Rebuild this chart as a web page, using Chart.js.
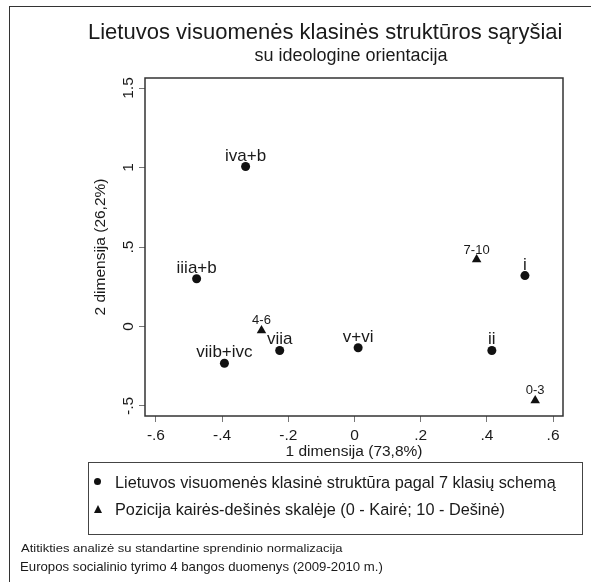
<!DOCTYPE html>
<html>
<head>
<meta charset="utf-8">
<script src="https://cdn.jsdelivr.net/npm/chart.js@4.4.1/dist/chart.umd.min.js"></script>
<style>
    body { margin: 0; background: #fff; font-family: 'Liberation Sans', Arial, sans-serif; color: #1a1a1a; }
    #wrap { position: relative; width: 591px; height: 582px; overflow: hidden; }
    #frame { position: absolute; left: 9px; top: 6px; width: 640px; height: 640px; border: 1.5px solid #333; }
    #chart { position: absolute; left: 0; top: 0; }
    .txt { position: absolute; white-space: nowrap; }
    #title { left: 88px; top: 19px; font-size: 22px; line-height: 26px; }
    #subtitle { left: 351px; top: 44px; font-size: 18px; line-height: 22px; transform: translateX(-50%); }
    #legend { position: absolute; left: 88px; top: 462px; width: 493px; height: 71px; border: 1px solid #444; }
    #legend .row { position: absolute; left: 26px; font-size: 16.3px; line-height: 20px; white-space: nowrap; }
    #legend .mk { position: absolute; left: -21px; top: 6px; }
    .dot { width: 7px; height: 7px; border-radius: 50%; background: #111; }
    .tri { width: 0; height: 0; border-left: 4.5px solid transparent; border-right: 4.5px solid transparent; border-bottom: 8px solid #111; }
    #note1 { left: 21px; top: 543px; font-size: 10px; line-height: 12px; transform: scaleX(1.3); transform-origin: left center; }
    #note2 { left: 20px; top: 559px; font-size: 13.2px; line-height: 16px; }
</style>
</head>
<body>
<div id="wrap">
    <div id="frame"></div>
    <canvas id="chart" width="591" height="582"></canvas>
    <div id="title" class="txt">Lietuvos visuomenės klasinės struktūros sąryšiai</div>
    <div id="subtitle" class="txt">su ideologine orientacija</div>
    <div id="legend">
        <div class="row" style="top:9px"><span class="mk dot"></span>Lietuvos visuomenės klasinė struktūra pagal 7 klasių schemą</div>
        <div class="row" style="top:36px"><span class="mk tri"></span>Pozicija kairės-dešinės skalėje (0 - Kairė; 10 - Dešinė)</div>
    </div>
    <div id="note1" class="txt">Atitikties analizė su standartine sprendinio normalizacija</div>
    <div id="note2" class="txt">Europos socialinio tyrimo 4 bangos duomenys (2009-2010 m.)</div>
</div>
<script>
// class scheme points
const classLabels = ['iva+b', 'iiia+b', 'viib+ivc', 'viia', 'v+vi', 'i', 'ii'];
const classDim1 = [-0.329, -0.477, -0.393, -0.226, 0.011, 0.515, 0.415];
const classDim2 = [1.006, 0.300, -0.231, -0.151, -0.134, 0.320, -0.151];

// left-right scale points
const scaleLabels = ['4-6', '7-10', '0-3'];
const scaleDim1 = [-0.281, 0.369, 0.546];
const scaleDim2 = [-0.025, 0.421, -0.465];

const xTicks = [-0.6, -0.4, -0.2, 0, 0.2, 0.4, 0.6];
const xTickLabels = ['-.6', '-.4', '-.2', '0', '.2', '.4', '.6'];
const yTicks = [-0.5, 0, 0.5, 1, 1.5];
const yTickLabels = ['-.5', '0', '.5', '1', '1.5'];

const FONT = "'Liberation Sans', Arial, sans-serif";
const INK = '#1a1a1a';

// frame around the plot region
const boxPlugin = {
    id: 'box',
    afterDraw(chart) {
        const { ctx, chartArea: a } = chart;
        ctx.save();
        ctx.strokeStyle = '#333';
        ctx.lineWidth = 1.5;
        ctx.strokeRect(a.left, a.top, a.right - a.left, a.bottom - a.top);
        ctx.restore();
    }
};

// rotated y tick labels (Stata style)
const yLabelPlugin = {
    id: 'yLabels',
    afterDraw(chart) {
        const { ctx } = chart;
        const y = chart.scales.y;
        ctx.save();
        ctx.fillStyle = INK;
        ctx.font = '15.5px ' + FONT;
        ctx.textAlign = 'center';
        ctx.textBaseline = 'alphabetic';
        yTicks.forEach((v, i) => {
            ctx.save();
            ctx.translate(y.right - 12.5, y.getPixelForValue(v));
            ctx.rotate(-Math.PI / 2);
            ctx.fillText(yTickLabels[i], 0, 0);
            ctx.restore();
        });
        ctx.restore();
    }
};

// marker labels above each point
const pointLabelPlugin = {
    id: 'pointLabels',
    afterDatasetsDraw(chart) {
        const { ctx } = chart;
        ctx.save();
        ctx.fillStyle = INK;
        ctx.textAlign = 'center';
        ctx.textBaseline = 'alphabetic';
        chart.data.datasets.forEach((ds, di) => {
            const meta = chart.getDatasetMeta(di);
            ctx.font = ds.labelSize + 'px ' + FONT;
            meta.data.forEach((el, i) => {
                ctx.fillText(ds.labels[i], el.x, el.y - 6);
            });
        });
        ctx.restore();
    }
};

const ctx = document.getElementById('chart').getContext('2d');
new Chart(ctx, {
    type: 'scatter',
    data: {
        datasets: [
            {
                data: classDim1.map((x, i) => ({ x, y: classDim2[i] })),
                labels: classLabels,
                labelSize: 17,
                pointStyle: 'circle',
                pointRadius: 4.5,
                borderWidth: 0,
                backgroundColor: '#111'
            },
            {
                data: scaleDim1.map((x, i) => ({ x, y: scaleDim2[i] })),
                labels: scaleLabels,
                labelSize: 13,
                pointStyle: 'triangle',
                pointRadius: 5.5,
                borderWidth: 0,
                backgroundColor: '#111'
            }
        ]
    },
    options: {
        responsive: false,
        animation: false,
        layout: { padding: { left: 86, right: 28, top: 78, bottom: 116 } },
        plugins: {
            legend: { display: false },
            tooltip: { enabled: false }
        },
        scales: {
            x: {
                type: 'linear',
                min: -0.633,
                max: 0.63,
                afterBuildTicks: (s) => { s.ticks = xTicks.map(v => ({ value: v })); },
                afterFit: (s) => { s.height = 50; },
                border: { display: false },
                grid: { drawOnChartArea: false, drawTicks: true, tickLength: 6, color: '#777' },
                ticks: {
                    autoSkip: false,
                    maxRotation: 0,
                    padding: 4,
                    color: INK,
                    font: { family: FONT, size: 15.5 },
                    callback: (v) => xTickLabels[xTicks.indexOf(v)]
                },
                title: {
                    display: true,
                    text: '1 dimensija (73,8%)',
                    color: INK,
                    font: { family: FONT, size: 15.5 },
                    padding: { top: 0, bottom: 5 }
                }
            },
            y: {
                type: 'linear',
                min: -0.563,
                max: 1.563,
                afterBuildTicks: (s) => { s.ticks = yTicks.map(v => ({ value: v })); },
                afterFit: (s) => { s.width = 59; },
                border: { display: false },
                grid: { drawOnChartArea: false, drawTicks: true, tickLength: 6, color: '#777' },
                ticks: { display: false },
                title: {
                    display: true,
                    text: '2 dimensija (26,2%)',
                    color: INK,
                    font: { family: FONT, size: 15.5 },
                    padding: { top: 5, bottom: 0 }
                }
            }
        }
    },
    plugins: [boxPlugin, yLabelPlugin, pointLabelPlugin]
});
</script>
</body>
</html>
